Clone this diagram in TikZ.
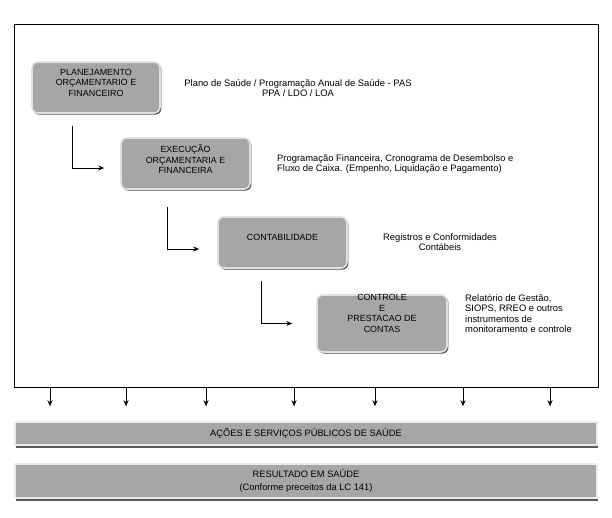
\documentclass[tikz,border=0pt]{standalone}
\usepackage{fontspec}
\setmainfont{Liberation Sans}
\usetikzlibrary{arrows.meta,shadows}
\definecolor{cinza}{RGB}{166,166,166}

\begin{document}
\begin{tikzpicture}[x=1pt,y=-1pt,
    etapa/.style={rounded corners=6pt, fill=cinza, draw=black!12, line width=1.6pt,
      general shadow={fill=black!70, shadow xshift=1.4pt, shadow yshift=-1.6pt}},
    faixa/.style={fill=cinza, draw=black!8, line width=1.5pt, minimum width=582pt,
      general shadow={fill=black!65, shadow xshift=1.2pt, shadow yshift=-2.8pt},
      font=\fontsize{9.3}{13}\selectfont, align=center},
    rotulo/.style={font=\fontsize{8.9}{10.5}\selectfont, align=center, inner sep=0pt},
    texto/.style={font=\fontsize{9.4}{10.5}\selectfont, align=center, inner sep=0pt},
    seta/.style={-{Stealth[length=6pt,width=5pt]}, line width=0.8pt}]
  \useasboundingbox (0,0) rectangle (612,517);
  \node[draw, line width=1pt, minimum width=584pt, minimum height=363pt] (quadro) at (306,205.5) {};

  % etapas
  \node[etapa, minimum width=128pt, minimum height=51pt] (plan) at (96,87.5) {};
  \node[rotulo] (plantxt) at ([yshift=5pt]plan.center) {PLANEJAMENTO\\ORÇAMENTARIO E\\FINANCEIRO};
  \node[etapa, minimum width=129pt, minimum height=51pt] (exec) at (185.5,163.5) {};
  \node[rotulo] (exectxt) at ([yshift=4pt]exec.center) {EXECUÇÃO\\ORÇAMENTARIA E\\FINANCEIRA};
  \node[etapa, minimum width=129pt, minimum height=51pt] (cont) at (282.5,242.5) {};
  \node[rotulo] (conttxt) at ([yshift=5pt]cont.center) {CONTABILIDADE};
  \node[etapa, minimum width=130pt, minimum height=57pt] (ctrl) at (382,323.5) {};
  \node[rotulo] (ctrltxt) at ([yshift=10pt]ctrl.center) {CONTROLE\\E\\PRESTACAO DE\\CONTAS};

  % textos ao lado
  \node[texto] (pas) at (298,88) {Plano de Saúde / Programação Anual de Saúde - PAS\\PPA / LDO / LOA};
  \node[texto, anchor=west, align=left] (prog) at (277,164) {Programação Financeira, Cronograma de Desembolso e\\Fluxo de Caixa. (Empenho, Liquidação e Pagamento)};
  \node[texto] (reg) at (440,242) {Registros e Conformidades\\Contábeis};
  \node[texto, anchor=west, align=left] (rel) at (465,313.5) {Relatório de Gestão,\\SIOPS, RREO e outros\\instrumentos de\\monitoramento e controle};

  \draw[seta, shorten <=12pt, shorten >=16pt] ([xshift=41pt]plan.south west) |- ([yshift=-4.5pt]exec.west);
  \draw[seta, shorten <=17pt, shorten >=18pt] ([xshift=47pt]exec.south west) |- ([yshift=-6.5pt]cont.west);
  \draw[seta, shorten <=12pt, shorten >=24pt] ([xshift=44pt]cont.south west) |- (ctrl.west);

  % faixas de baixo
  \node[faixa, minimum height=23pt] (acoes) at (306,433.5) {AÇÕES E SERVIÇOS PÚBLICOS DE SAÚDE};
  \node[faixa, minimum height=34pt] (result) at (306,481) {RESULTADO EM SAÚDE\\(Conforme preceitos da LC 141)};

  \foreach \x in {50,126,206,294,375,463,550}
    \draw[seta, shorten >=15pt] (\x,0 |- quadro.south) -- (\x,0 |- acoes.north);
\end{tikzpicture}
\end{document}
